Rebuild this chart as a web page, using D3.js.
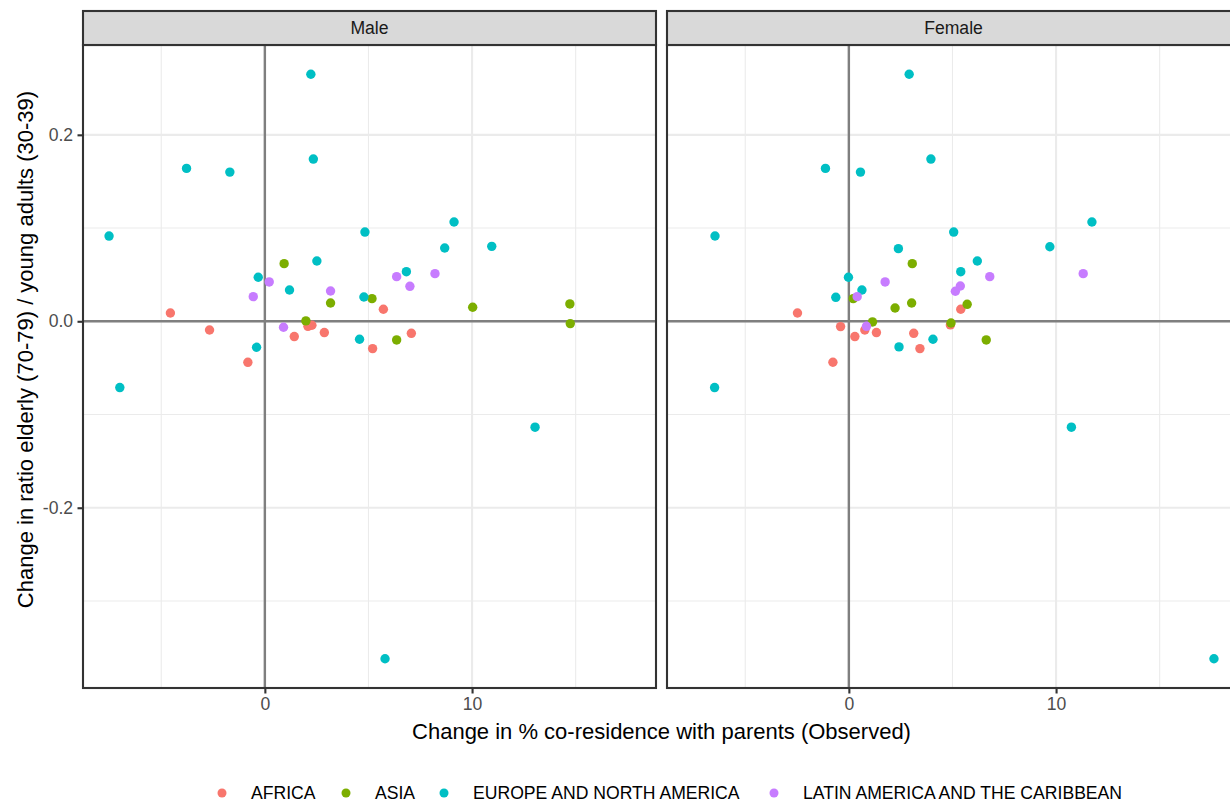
<!DOCTYPE html>
<html>
<head>
<meta charset="utf-8">
<script src="https://cdn.jsdelivr.net/npm/d3@7"></script>
<style>
  body { margin: 0; background: #fff; }
  svg { display: block; }
  text { font-family: "Liberation Sans", Arial, Helvetica, sans-serif; }
</style>
</head>
<body>
<svg id="chart" width="1230" height="803"></svg>
<script>
// Regions (legend order) and their hue colours
const regions = ["AFRICA", "ASIA", "EUROPE AND NORTH AMERICA", "LATIN AMERICA AND THE CARIBBEAN"];
const regionColors = ["#F8766D", "#7CAE00", "#00BFC4", "#C77CFF"];
const panels = ["Male", "Female"];

// Axis ticks
const xTicks = [0, 10];
const xMinorTicks = [-5, 5, 15];
const yTicks = [-0.2, 0.0, 0.2];
const yMinorTicks = [-0.3, -0.1, 0.1];

// [change in % co-residence, change in elderly/young ratio] per country
const maleAfrica = [[-4.56, 0.0089], [-2.67, -0.0093], [-0.82, -0.0440], [1.42, -0.0164], [2.08, -0.0054],
                    [2.27, -0.0043], [2.87, -0.0121], [5.72, 0.0129], [5.20, -0.0293], [7.07, -0.0129]];
const maleAsia = [[0.93, 0.0618], [1.98, 0.0004], [3.17, 0.0196], [5.17, 0.0243], [6.36, -0.0200],
                  [10.03, 0.0150], [14.72, 0.0186], [14.74, -0.0025]];
const maleEurope = [[-7.52, 0.0914], [-7.00, -0.0711], [-3.78, 0.1640], [-1.69, 0.1600], [2.22, 0.2650],
                    [2.34, 0.1740], [-0.32, 0.0472], [-0.40, -0.0279], [1.19, 0.0336], [2.51, 0.0647],
                    [4.83, 0.0957], [4.78, 0.0261], [4.57, -0.0193], [6.83, 0.0532], [8.68, 0.0786],
                    [9.13, 0.1065], [10.95, 0.0804], [13.04, -0.1136], [5.80, -0.3620]];
const maleLatin = [[-0.56, 0.0264], [0.21, 0.0422], [0.90, -0.0064], [3.17, 0.0325], [6.36, 0.0479],
                   [7.00, 0.0375], [8.21, 0.0511]];

const femaleAfrica = [[-2.48, 0.0089], [-0.40, -0.0057], [0.29, -0.0164], [0.77, -0.0093], [1.33, -0.0121],
                      [3.13, -0.0129], [3.43, -0.0293], [4.90, -0.0039], [5.40, 0.0129], [-0.77, -0.0439]];
const femaleAsia = [[3.06, 0.0618], [0.21, 0.0243], [2.23, 0.0143], [3.03, 0.0196], [1.14, -0.0007],
                    [6.63, -0.0200], [5.71, 0.0182], [4.93, -0.0018]];
const femaleEurope = [[2.91, 0.2650], [-1.13, 0.1640], [0.56, 0.1600], [3.96, 0.1740], [-6.46, 0.0915],
                      [5.06, 0.0957], [2.39, 0.0779], [-0.02, 0.0472], [0.63, 0.0336], [-0.63, 0.0257],
                      [5.40, 0.0532], [6.20, 0.0647], [9.70, 0.0800], [11.73, 0.1065], [-6.48, -0.0711],
                      [10.74, -0.1136], [17.62, -0.3620], [2.42, -0.0275], [4.06, -0.0193]];
const femaleLatin = [[0.40, 0.0264], [1.75, 0.0422], [0.85, -0.0054], [5.14, 0.0322], [5.38, 0.0379],
                     [6.80, 0.0479], [11.31, 0.0511]];

const panelData = {
  Male: [maleAfrica, maleAsia, maleEurope, maleLatin],
  Female: [femaleAfrica, femaleAsia, femaleEurope, femaleLatin]
};

// Layout
const svg = d3.select("#chart");
const panelW = 573, panelTop = 45, panelBottom = 688, stripTop = 11;
const panelLeft = { Male: 83, Female: 667 };
const axisTextSize = 17.6, titleSize = 22;

// Shared scales with 5% expansion of the data range
const allPts = panels.flatMap(p => panelData[p].flat());
function expand(ext) { const d = (ext[1] - ext[0]) * 0.05; return [ext[0] - d, ext[1] + d]; }
const x = d3.scaleLinear().domain(expand(d3.extent(allPts, d => d[0]))).range([0, panelW]);
const y = d3.scaleLinear().domain(expand(d3.extent(allPts, d => d[1]))).range([panelBottom - panelTop, 0]);
const ph = panelBottom - panelTop;

const defs = svg.append("defs");

panels.forEach(name => {
  const g = svg.append("g").attr("transform", `translate(${panelLeft[name]},${panelTop})`);
  const clipId = "clip-" + name;
  defs.append("clipPath").attr("id", clipId).append("rect").attr("width", panelW).attr("height", ph);

  const inner = g.append("g").attr("clip-path", `url(#${clipId})`);
  // minor grid
  inner.selectAll(".xminor").data(xMinorTicks).join("line")
    .attr("x1", d => x(d)).attr("x2", d => x(d)).attr("y1", 0).attr("y2", ph)
    .attr("stroke", "#EBEBEB").attr("stroke-width", 1.1);
  inner.selectAll(".yminor").data(yMinorTicks).join("line")
    .attr("y1", d => y(d)).attr("y2", d => y(d)).attr("x1", 0).attr("x2", panelW)
    .attr("stroke", "#EBEBEB").attr("stroke-width", 1.1);
  // major grid
  inner.selectAll(".xmajor").data(xTicks).join("line")
    .attr("x1", d => x(d)).attr("x2", d => x(d)).attr("y1", 0).attr("y2", ph)
    .attr("stroke", "#EBEBEB").attr("stroke-width", 2.1);
  inner.selectAll(".ymajor").data(yTicks).join("line")
    .attr("y1", d => y(d)).attr("y2", d => y(d)).attr("x1", 0).attr("x2", panelW)
    .attr("stroke", "#EBEBEB").attr("stroke-width", 2.1);
  // zero reference lines
  inner.append("line").attr("x1", 0).attr("x2", panelW).attr("y1", y(0)).attr("y2", y(0))
    .attr("stroke", "#7F7F7F").attr("stroke-width", 2.4);
  inner.append("line").attr("x1", x(0)).attr("x2", x(0)).attr("y1", 0).attr("y2", ph)
    .attr("stroke", "#7F7F7F").attr("stroke-width", 2.4);

  // points
  panelData[name].forEach((pts, i) => {
    inner.append("g").selectAll("circle").data(pts).join("circle")
      .attr("cx", d => x(d[0])).attr("cy", d => y(d[1])).attr("r", 4.7)
      .attr("fill", regionColors[i]);
  });

  // panel border
  g.append("rect").attr("width", panelW).attr("height", ph)
    .attr("fill", "none").attr("stroke", "#333333").attr("stroke-width", 2.1);

  // strip
  const sg = svg.append("g").attr("transform", `translate(${panelLeft[name]},${stripTop})`);
  sg.append("rect").attr("width", panelW).attr("height", panelTop - stripTop)
    .attr("fill", "#D9D9D9").attr("stroke", "#333333").attr("stroke-width", 2.1);
  sg.append("text").attr("x", panelW / 2).attr("y", (panelTop - stripTop) / 2)
    .attr("text-anchor", "middle").attr("dominant-baseline", "central")
    .attr("font-size", axisTextSize).attr("fill", "#1A1A1A").text(name);

  // x axis
  const xa = g.append("g").attr("transform", `translate(0,${ph})`)
    .call(d3.axisBottom(x).tickValues(xTicks).tickSize(5.5).tickPadding(4.4).tickFormat(d => String(d)));
  xa.select(".domain").remove();
  xa.selectAll(".tick line").attr("stroke", "#333333").attr("stroke-width", 2.1);
  xa.selectAll(".tick text").attr("fill", "#4D4D4D").attr("font-size", axisTextSize)
    .attr("font-family", "\"Liberation Sans\", Arial, sans-serif");

  // y axis on the first panel only
  if (name === "Male") {
    const ya = g.append("g")
      .call(d3.axisLeft(y).tickValues(yTicks).tickSize(5.5).tickPadding(4.4).tickFormat(d => d.toFixed(1)));
    ya.select(".domain").remove();
    ya.selectAll(".tick line").attr("stroke", "#333333").attr("stroke-width", 2.1);
    ya.selectAll(".tick text").attr("fill", "#4D4D4D").attr("font-size", axisTextSize)
      .attr("font-family", "\"Liberation Sans\", Arial, sans-serif");
  }
});

// axis titles
svg.append("text").attr("x", (panelLeft.Male + panelLeft.Female + panelW) / 2).attr("y", 739)
  .attr("text-anchor", "middle").attr("font-size", titleSize).attr("fill", "#000")
  .text("Change in % co-residence with parents (Observed)");
svg.append("text").attr("transform", `translate(33,${(stripTop + panelBottom) / 2}) rotate(-90)`)
  .attr("text-anchor", "middle").attr("font-size", titleSize).attr("fill", "#000")
  .text("Change in ratio elderly (70-79) / young adults (30-39)");

// legend
const legendKeyX = [222, 346, 444, 774];
const legend = svg.append("g").attr("transform", "translate(0,793)");
regions.forEach((r, i) => {
  legend.append("circle").attr("cx", legendKeyX[i]).attr("cy", 0).attr("r", 4.5).attr("fill", regionColors[i]);
  legend.append("text").attr("x", legendKeyX[i] + 29).attr("y", 0).attr("dominant-baseline", "central")
    .attr("font-size", axisTextSize).attr("fill", "#000").text(r);
});
</script>
</body>
</html>
